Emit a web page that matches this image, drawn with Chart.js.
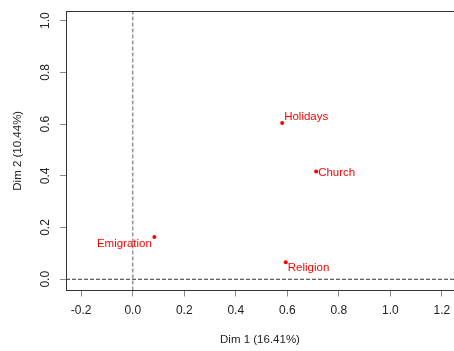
<!DOCTYPE html>
<html>
<head>
<meta charset="utf-8">
<script src="https://cdn.jsdelivr.net/npm/chart.js@4"></script>
<style>
  html, body { margin: 0; padding: 0; background: #fff; }
  #wrap { width: 454px; height: 351px; }
</style>
</head>
<body>
<div id="wrap"><canvas id="pca"></canvas></div>
<script>
// Data
const names = ['Holidays', 'Church', 'Religion', 'Emigration'];
const dim1 = [0.580, 0.712, 0.594, 0.084];
const dim2 = [0.604, 0.417, 0.066, 0.163];

// Axis ranges and labels
const xRange = [-0.259, 1.247];
const yRange = [-0.0434, 1.037];
const xTitle = 'Dim 1 (16.41%)';
const yTitle = 'Dim 2 (10.44%)';

const points = names.map((n, i) => ({ x: dim1[i], y: dim2[i] }));

// label placement: [dx, dy, align] relative to the point
const labelPlace = [[2, -6, 'left'], [2, 1, 'left'], [2, 5.5, 'left'], [-2.5, 6.5, 'right']];

const pointLabels = {
    id: 'pointLabels',
    afterDatasetsDraw(chart) {
        const ctx = chart.ctx;
        const meta = chart.getDatasetMeta(0);
        ctx.save();
        ctx.font = '11.5px "Liberation Sans", Arial, sans-serif';
        ctx.fillStyle = '#ff0000';
        ctx.textBaseline = 'middle';
        meta.data.forEach((el, i) => {
            const p = labelPlace[i];
            ctx.textAlign = p[2];
            ctx.fillText(names[i], el.x + p[0], el.y + p[1]);
        });
        ctx.restore();
    }
};

// plot frame like R's box() (right side falls just off the canvas)
const frame = {
    id: 'frame',
    afterDraw(chart) {
        const a = chart.chartArea;
        const ctx = chart.ctx;
        ctx.save();
        ctx.strokeStyle = '#333';
        ctx.lineWidth = 1;
        const l = Math.floor(a.left) + 0.5, t = Math.floor(a.top) + 0.5;
        const r = Math.floor(a.right) + 0.5, b = Math.floor(a.bottom) + 0.5;
        ctx.strokeRect(l, t, r - l, b - t);
        ctx.restore();
    }
};

const tickFont = { family: '"Liberation Sans", Arial, sans-serif', size: 12 };
const titleFont = { family: '"Liberation Sans", Arial, sans-serif', size: 11.5 };

new Chart(document.getElementById('pca'), {
    type: 'scatter',
    data: {
        datasets: [{
            data: points,
            backgroundColor: '#ff0000',
            borderColor: '#ff0000',
            pointRadius: 2,
            pointBorderWidth: 0
        }, {
            type: 'line',
            data: [{ x: 0, y: yRange[0] }, { x: 0, y: yRange[1] }],
            borderColor: '#999',
            borderWidth: 1.6,
            borderDash: [4, 2],
            pointRadius: 0
        }, {
            type: 'line',
            data: [{ x: xRange[0], y: 0 }, { x: xRange[1], y: 0 }],
            borderColor: '#333',
            borderWidth: 1,
            borderDash: [4, 2],
            pointRadius: 0
        }]
    },
    options: {
        responsive: true,
        maintainAspectRatio: false,
        animation: false,
        layout: { autoPadding: false, padding: { top: 11, right: 0, left: 0, bottom: 0 } },
        plugins: {
            legend: { display: false },
            tooltip: { enabled: false }
        },
        scales: {
            x: {
                type: 'linear',
                min: xRange[0],
                max: xRange[1],
                border: { display: false },
                grid: { drawOnChartArea: false, drawTicks: true, tickLength: 6, tickColor: '#888' },
                ticks: {
                    stepSize: 0.2,
                    includeBounds: false,
                    padding: 7,
                    color: '#222',
                    font: tickFont,
                    maxRotation: 0,
                    callback: v => v.toFixed(1)
                },
                title: { display: true, text: xTitle, color: '#222', font: titleFont, padding: { top: 0, bottom: 4 } },
                afterFit(scale) {
                    scale.height = 60.5;
                    scale.paddingLeft = 0;
                    scale.paddingRight = 0;
                }
            },
            y: {
                type: 'linear',
                min: yRange[0],
                max: yRange[1],
                border: { display: false },
                grid: { drawOnChartArea: false, drawTicks: true, tickLength: 6, tickColor: '#888' },
                ticks: {
                    stepSize: 0.2,
                    includeBounds: false,
                    padding: 6,
                    color: '#222',
                    font: tickFont,
                    minRotation: 90,
                    maxRotation: 90,
                    crossAlign: 'center',
                    callback: v => v.toFixed(1)
                },
                title: { display: true, text: yTitle, color: '#222', font: titleFont, padding: { top: 11, bottom: 0 } },
                afterFit(scale) {
                    scale.width = 66;
                    scale.paddingTop = 0;
                    scale.paddingBottom = 0;
                }
            }
        }
    },
    plugins: [pointLabels, frame]
});
</script>
</body>
</html>
